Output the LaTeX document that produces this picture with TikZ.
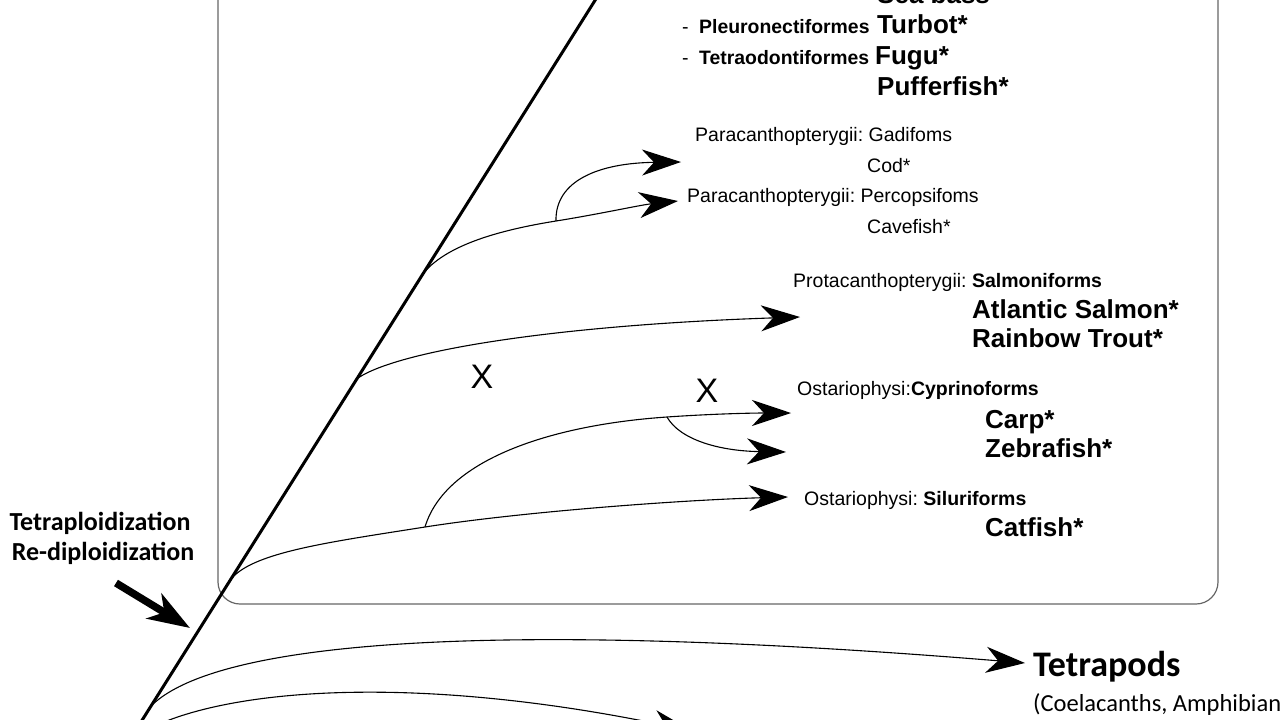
\documentclass[tikz,border=0pt]{standalone}
\usepackage{fontspec}
\setmainfont{Liberation Sans}
\newfontfamily\calibrifont{Carlito}
\usetikzlibrary{arrows.meta}
\frenchspacing
\begin{document}
\begin{tikzpicture}[x=1pt,y=-1pt,
  boxline/.style={draw=black!60,line width=1.2pt,rounded corners=22pt},
  mainline/.style={line width=3pt,line cap=butt},
  branch/.style={line width=1.1pt},
  tipped/.style={branch,-{Stealth[length=39pt,width=26pt,inset=12pt]}},
  bigarrow/.style={line width=7.5pt,-{Stealth[length=42pt,width=29pt,inset=12pt]}},
  lbl/.style={inner sep=0pt,anchor=base west},
  big/.style={lbl,font=\fontsize{26}{30}\selectfont\bfseries},
  mid/.style={lbl,font=\fontsize{19.5}{22}\selectfont},
  midb/.style={lbl,font=\fontsize{19.4}{22}\selectfont\bfseries},
  cross/.style={inner sep=0pt,font=\fontsize{34}{36}\selectfont},
  calb/.style={inner sep=0pt,anchor=base,font=\calibrifont\fontsize{26}{30}\selectfont\bfseries}
]
\useasboundingbox (0,0) rectangle (1280,720);

% frame
\draw[boxline] (218,-40) rectangle (1218,604);

% main axis
\coordinate (mtop) at (611,-25);
\coordinate (mbot) at (129,741);
\draw[mainline] (mtop) -- (mbot);

% branch points
\coordinate (bA) at (422,275);
\coordinate (bB) at (358,378);
\coordinate (bC) at (232,578);
\coordinate (bF) at (152,705);
\coordinate (bG) at (130,740);
\coordinate (sA) at (556,221);
\coordinate (sC) at (425,527);
\coordinate (sD) at (667,417);

% arrow tips
\coordinate (tA1) at (681,162);
\coordinate (tA2) at (678,201);
\coordinate (tB) at (800,317);
\coordinate (tC1) at (791,413);
\coordinate (tC2) at (786,452);
\coordinate (tC3) at (788,497);
\coordinate (tF) at (1025,663);
\coordinate (tG) at (692,731);

% Paracanthopterygii
\draw[tipped] (bA) .. controls (445,245) and (500,230) .. (sA) .. controls (600,214) and (640,205) .. (tA2);
\draw[tipped] (sA) .. controls (555,180) and (600,163) .. (tA1);
% Protacanthopterygii
\draw[tipped] (bB) .. controls (400,350) and (560,325) .. (tB);
% Ostariophysi
\draw[tipped] (bC) .. controls (255,552) and (330,542) .. (sC) .. controls (520,512) and (680,500) .. (tC3);
\draw[tipped] (sC) .. controls (445,460) and (550,425) .. (sD) .. controls (710,414) and (750,413) .. (tC1);
\draw[tipped] (sD) .. controls (680,440) and (720,451) .. (tC2);
% Tetrapods and lower
\draw[tipped] (bF) .. controls (220,640) and (500,620) .. (tF);
\draw[tipped] (bG) .. controls (200,690) and (400,670) .. (tG);

% Tetraploidization arrow
\coordinate (tpA) at (116,583);
\coordinate (tpB) at (190,628);
\draw[bigarrow] (tpA) -- (tpB);
\node[calb] (tetra) at (100,530) {Tetraploidization};
\node[calb] (redip) at (103,560) {Re-diploidization};

% X marks
\node[cross] (x1) at (482,377) {X};
\node[cross] (x2) at (707,391) {X};

% top group
\node[big] (seabass) at (877,4) {Sea bass};
\node[mid] (d1) at (682,33) {-};
\node[midb] (pleu) at (699,33) {Pleuronectiformes};
\node[big] (turbot) at (877,33) {Turbot*};
\node[mid] (d2) at (682,64) {-};
\node[midb] (tetrao) at (699,64) {Tetraodontiformes};
\node[big] (fugu) at (875,64) {Fugu*};
\node[big] (puffer) at (877,95) {Pufferfish*};

% Paracanthopterygii
\node[mid] (gadi) at (695,141) {Paracanthopterygii: Gadifoms};
\node[mid] (cod) at (867,172) {Cod*};
\node[mid] (perc) at (687,202) {Paracanthopterygii: Percopsifoms};
\node[mid] (cave) at (867,233) {Cavefish*};

% Protacanthopterygii
\node[mid] (prot) at (793,287) {Protacanthopterygii: \textbf{Salmoniforms}};
\node[big] (salmon) at (972,318) {Atlantic Salmon*};
\node[big] (trout) at (972,347) {Rainbow Trout*};

% Ostariophysi
\node[mid] (cyp) at (797,395) {Ostariophysi:\textbf{Cyprinoforms}};
\node[big] (carp) at (985,428) {Carp*};
\node[big] (zebra) at (985,457) {Zebrafish*};
\node[mid] (silu) at (804,505) {Ostariophysi: \textbf{Siluriforms}};
\node[big] (cat) at (985,536) {Catfish*};

% Tetrapods
\node[lbl,font=\calibrifont\fontsize{36}{40}\selectfont\bfseries] (tetrapods) at (1033,676) {Tetrapods};
\node[lbl,font=\calibrifont\fontsize{24.5}{28}\selectfont] (coel) at (1033,711) {(Coelacanths, Amphibians};
\end{tikzpicture}
\end{document}
